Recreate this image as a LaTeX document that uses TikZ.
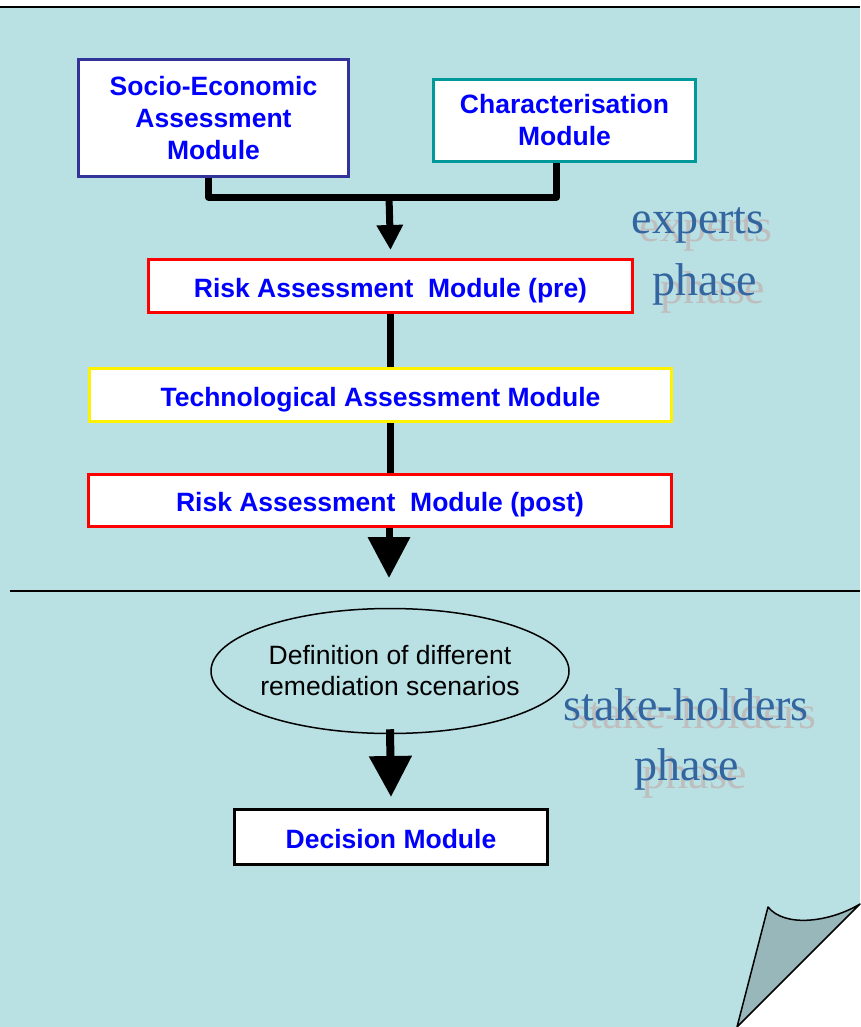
\documentclass[tikz,border=0pt]{standalone}
\usepackage{fontspec}
\setmainfont{Liberation Sans}
\newfontfamily\phasefont{Liberation Serif}
\usetikzlibrary{arrows.meta,shapes.geometric}
\definecolor{sheet}{RGB}{185,224,227}
\definecolor{fold}{RGB}{152,183,186}
\definecolor{phaseblue}{RGB}{51,102,160}
\definecolor{phaseshadow}{RGB}{190,190,190}
\definecolor{socioblue}{RGB}{51,51,153}
\definecolor{charteal}{RGB}{0,153,153}
\definecolor{modtext}{RGB}{0,0,255}
\tikzset{module/.style={draw=#1, line width=3pt, fill=white, inner sep=0pt,
    font=\fontsize{26.5}{32}\selectfont\bfseries, text=modtext, align=center},
%one line boxes: baseline a bit under the middle
oneline/.style={text height=22pt, text depth=0pt},
flow/.style={line width=7pt},
%head is as long as it is wide
bigtip/.style={-{Triangle[width=#1,length=#1]}},
phase/.style={anchor=base, font=\phasefont\fontsize{46}{62}\selectfont}}

\begin{document}
\begin{tikzpicture}[x=1pt,y=-1pt]

\useasboundingbox (0,0) rectangle (860,1027);

% the sheet and its turned corner
\fill[sheet] (0,7) rectangle (860,1027);
\draw[line width=2pt] (0,7) -- (860,7);
\fill[white] (737,1027) -- (860,904) -- (860,1027) -- cycle;
\filldraw[fill=fold, line width=1.5pt, line join=round] (737,1027) -- (768,907)
    .. controls (785,928) and (830,922) .. (860,904) -- cycle;

% phase labels, shadow first
\node[phase, text=phaseshadow] at (706,241) {experts};
\node[phase, text=phaseshadow] at (713,303) {phase};
\node[phase, text=phaseblue] (experts) at (698,233) {experts};
\node[phase, text=phaseblue] (expphase) at (705,295) {phase};
\node[phase, text=phaseshadow] at (694,728) {stake-holders};
\node[phase, text=phaseshadow] at (695,788) {phase};
\node[phase, text=phaseblue] (stake) at (686,720) {stake-holders};
\node[phase, text=phaseblue] (stakephase) at (687,780) {phase};

% modules
\node[module=socioblue, minimum width=270pt, minimum height=117pt] (socio) at (213.5,118)
    {Socio-Economic\\Assessment\\Module};
\node[module=charteal, minimum width=262pt, minimum height=82pt] (charac) at (564.5,120.5)
    {Characterisation\\Module};
\node[module=red, oneline, minimum width=484pt, minimum height=53pt] (riskpre) at (390.5,286)
    {Risk Assessment \ Module (pre)};
\node[module=yellow, oneline, minimum width=582pt, minimum height=53pt] (tech) at (380.5,395)
    {Technological Assessment Module};
\node[module=red, oneline, minimum width=583pt, minimum height=52pt] (riskpost) at (380,500.5)
    {Risk Assessment \ Module (post)};

\node[draw, ellipse, line width=1.5pt, minimum width=358pt, minimum height=125pt,
    inner xsep=-10pt, inner ysep=0pt,
    font=\fontsize{26.5}{31}\selectfont, align=center] (scen) at (390,671)
    {Definition of different\\remediation scenarios};
\node[module=black, oneline, minimum width=313pt, minimum height=55pt] (decision) at (391,837)
    {Decision Module};

% connectors
\coordinate (join) at (389,197);
\coordinate (cut) at (389,578);
\coordinate (sepL) at (10,591);
\coordinate (sepR) at (860,591);

\draw[flow, line join=round] ([xshift=-5pt]socio.south) |- (join) -| ([xshift=-8pt]charac.south);
\draw[flow, bigtip=25pt] (join) -- ([yshift=8pt]riskpre.north);
\draw[flow] (riskpre.south) -- (riskpre.south |- tech.north);
\draw[flow] ([xshift=10pt]tech.south) -- ([xshift=10pt]tech.south |- riskpost.north);
\draw[flow, bigtip=41pt] (riskpost.south -| cut) -- (cut);

\draw[line width=1.5pt] (sepL) -- (sepR);

\draw[line width=8pt, bigtip=41pt] ([yshift=5pt]scen.south) -- ([yshift=11pt]decision.north);

\end{tikzpicture}
\end{document}
